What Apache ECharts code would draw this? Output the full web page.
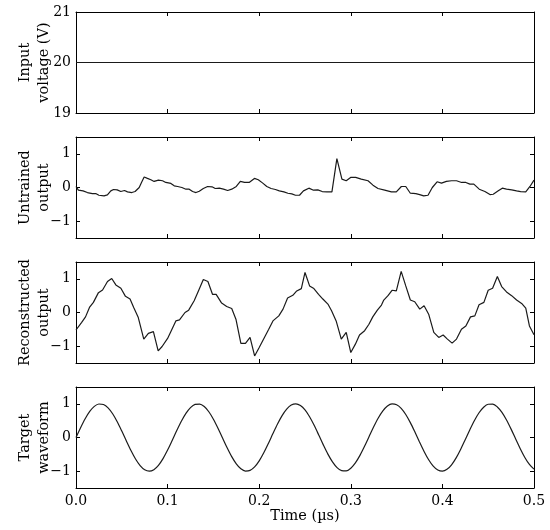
<!DOCTYPE html>
<html>
<head>
<meta charset="utf-8">
<script src="https://cdn.jsdelivr.net/npm/echarts@6/dist/echarts.min.js"></script>
<style>
html,body{margin:0;padding:0;background:#fff;}
#chart{width:550px;height:530px;}
</style>
</head>
<body>
<div id="chart"></div>
<script>
// ---- tick labels ----
const xTicks = [0, 0.1, 0.2, 0.3, 0.4, 0.5];
const inputTicks = [19, 20, 21];
const outTicks = [-1, 0, 1];

// ---- panel titles ----
const panelNames = ['Input\nvoltage (V)', 'Untrained\noutput', 'Reconstructed\noutput', 'Target\nwaveform'];
const xName = 'Time (\u00b5s)';

// ---- input voltage ----
const inputT = [0, 0.5];
const inputV = [20, 20];

// ---- untrained output ----
const untrainedT = [0,0.0026,0.0077,0.0124,0.0179,0.0215,0.025,0.0306,0.0343,0.038,0.041,0.045,0.0489,0.053,0.0562,0.061,0.0645,0.069,0.0715,0.0744,0.078,0.0817,0.0853,0.090,0.0945,0.098,0.1036,0.1072,0.111,0.1156,0.12,0.1236,0.1273,0.131,0.1346,0.139,0.1437,0.1485,0.152,0.1565,0.161,0.1656,0.170,0.175,0.1794,0.184,0.189,0.1948,0.199,0.2039,0.2083,0.213,0.2177,0.222,0.227,0.2313,0.2356,0.2396,0.244,0.2483,0.2542,0.2593,0.264,0.2688,0.2739,0.2794,0.2848,0.2903,0.295,0.2998,0.3053,0.3114,0.3188,0.3242,0.3297,0.337,0.3443,0.3497,0.3552,0.36,0.365,0.371,0.3752,0.3796,0.3843,0.389,0.3942,0.399,0.4044,0.410,0.4154,0.421,0.4256,0.430,0.4343,0.4402,0.4464,0.4519,0.4555,0.461,0.4654,0.470,0.4756,0.481,0.4854,0.491,0.4956,0.50];
const untrainedV = [0.03,-0.08,-0.10,-0.15,-0.18,-0.18,-0.23,-0.25,-0.22,-0.10,-0.06,-0.07,-0.12,-0.09,-0.13,-0.15,-0.12,0.0,0.15,0.31,0.27,0.23,0.18,0.22,0.20,0.15,0.12,0.05,0.03,0.0,-0.05,-0.05,-0.12,-0.15,-0.11,-0.03,0.03,0.02,-0.03,-0.02,-0.05,-0.09,-0.05,0.03,0.18,0.15,0.15,0.27,0.23,0.13,0.03,-0.03,-0.06,-0.10,-0.13,-0.17,-0.19,-0.23,-0.23,-0.10,-0.02,-0.08,-0.07,-0.12,-0.13,-0.13,0.86,0.25,0.20,0.30,0.30,0.25,0.20,0.07,-0.03,-0.08,-0.13,-0.13,0.03,0.03,-0.17,-0.18,-0.21,-0.25,-0.23,0.0,0.17,0.13,0.18,0.20,0.20,0.15,0.15,0.10,0.10,-0.05,-0.12,-0.21,-0.20,-0.10,-0.02,-0.05,-0.07,-0.10,-0.12,-0.13,0.03,0.22];

// ---- reconstructed output ----
const reconT = [0,0.006,0.0104,0.0147,0.019,0.0245,0.029,0.0344,0.039,0.0435,0.049,0.054,0.059,0.063,0.068,0.074,0.079,0.0845,0.0897,0.094,0.100,0.104,0.109,0.113,0.119,0.123,0.129,0.134,0.139,0.144,0.149,0.153,0.159,0.1645,0.170,0.1746,0.180,0.185,0.190,0.195,0.200,0.2057,0.2104,0.215,0.2214,0.226,0.231,0.2367,0.241,0.246,0.250,0.255,0.2597,0.2648,0.2695,0.275,0.279,0.284,0.2896,0.295,0.300,0.305,0.3095,0.3151,0.3198,0.324,0.329,0.3335,0.336,0.3406,0.345,0.3497,0.355,0.360,0.365,0.3698,0.3753,0.380,0.385,0.3906,0.396,0.4008,0.4055,0.4106,0.4154,0.4208,0.4256,0.4307,0.4354,0.440,0.4453,0.450,0.4548,0.460,0.4647,0.470,0.4756,0.481,0.4865,0.491,0.495,0.5];
const reconV = [-0.52,-0.30,-0.13,0.15,0.30,0.59,0.67,0.92,1.01,0.82,0.72,0.48,0.40,0.15,-0.15,-0.79,-0.62,-0.57,-1.14,-1.01,-0.77,-0.54,-0.25,-0.22,0.0,0.07,0.35,0.66,0.98,0.92,0.54,0.54,0.28,0.18,0.12,-0.20,-0.92,-0.92,-0.74,-1.29,-1.04,-0.74,-0.50,-0.25,-0.10,0.10,0.43,0.51,0.64,0.71,1.19,0.79,0.71,0.54,0.40,0.25,0.05,-0.25,-0.79,-0.59,-1.19,-0.94,-0.67,-0.54,-0.35,-0.13,0.07,0.22,0.37,0.50,0.66,0.64,1.22,0.79,0.37,0.32,0.10,0.20,-0.05,-0.59,-0.74,-0.67,-0.79,-0.91,-0.79,-0.50,-0.40,-0.13,-0.10,0.23,0.30,0.66,0.72,1.07,0.77,0.61,0.50,0.37,0.27,0.13,-0.40,-0.66];

// ---- target waveform ----
const targetT = [0,0.005,0.01,0.015,0.02,0.025,0.03,0.035,0.04,0.045,0.05,0.055,0.06,0.065,0.07,0.075,0.08,0.085,0.09,0.095,0.1,0.105,0.11,0.115,0.12,0.125,0.13,0.135,0.14,0.145,0.15,0.155,0.16,0.165,0.17,0.175,0.18,0.185,0.19,0.195,0.2,0.205,0.21,0.215,0.22,0.225,0.23,0.235,0.24,0.245,0.25,0.255,0.26,0.265,0.27,0.275,0.28,0.285,0.29,0.295,0.3,0.305,0.31,0.315,0.32,0.325,0.33,0.335,0.34,0.345,0.35,0.355,0.36,0.365,0.37,0.375,0.38,0.385,0.39,0.395,0.4,0.405,0.41,0.415,0.42,0.425,0.43,0.435,0.44,0.445,0.45,0.455,0.46,0.465,0.47,0.475,0.48,0.485,0.49,0.495,0.5];
const targetV = [0,0.2907,0.5563,0.7738,0.9246,0.9954,0.9802,0.8803,0.7045,0.4678,0.1906,-0.1030,-0.3877,-0.6389,-0.8350,-0.9589,-1.0000,-0.9546,-0.8268,-0.6277,-0.3743,-0.0885,0.2048,0.4806,0.7146,0.8872,0.9830,0.9939,0.9190,0.7646,0.5443,0.2768,-0.0145,-0.3046,-0.5683,-0.7829,-0.9300,-0.9967,-0.9773,-0.8734,-0.6942,-0.4550,-0.1764,0.1174,0.4010,0.6502,0.8431,0.9629,0.9998,0.9502,0.8188,0.6163,0.3608,0.0741,-0.2190,-0.4934,-0.7248,-0.8938,-0.9856,-0.9922,-0.9131,-0.7552,-0.5320,-0.2629,0.0290,0.3184,0.5803,0.7918,0.9353,0.9978,0.9741,0.8663,0.6838,0.4420,0.1621,-0.1319,-0.4143,-0.6611,-0.8507,-0.9667,-0.9993,-0.9456,-0.8105,-0.6050,-0.3472,-0.0595,0.2333,0.5059,0.7347,0.9002,0.9879,0.9903,0.9071,0.7456,0.5197,0.2487,-0.0436,-0.3322,-0.5920,-0.8007,-0.9403];

// ---- build ----
const FONT = 'DejaVu Serif';
const INK = '#000';
const pair = (t, v) => t.map((x, i) => [x, v[i]]);
const panels = [
  { data: pair(inputT, inputV), ymin: 19, ymax: 21, ticks: inputTicks, smooth: false },
  { data: pair(untrainedT, untrainedV), ymin: -1.5, ymax: 1.5, ticks: outTicks, smooth: false },
  { data: pair(reconT, reconV), ymin: -1.5, ymax: 1.5, ticks: outTicks, smooth: false },
  { data: pair(targetT, targetV), ymin: -1.5, ymax: 1.5, ticks: outTicks, smooth: 0.3 }
];
const tops = [12, 137, 262, 387];
const H = 101;
const fmtNum = v => (v < 0 ? '\u2212' + Math.abs(v) : String(v));

const grid = [], xAxis = [], yAxis = [], series = [];
panels.forEach((p, i) => {
  grid.push({ left: 76, right: 16, top: tops[i], height: H, containLabel: false, outerBoundsMode: 'none' });
  const line = { show: true, onZero: false, lineStyle: { color: INK, width: 1 } };
  const isLast = i === panels.length - 1;
  xAxis.push({
    type: 'value', gridIndex: i, position: 'bottom', min: 0, max: 0.5,
    axisLine: line,
    axisTick: { show: true, inside: true, length: 4, customValues: xTicks, lineStyle: { color: INK } },
    axisLabel: { show: isLast, customValues: xTicks, formatter: v => v.toFixed(1), fontFamily: FONT, fontSize: 14, color: INK, margin: 6 },
    splitLine: { show: false },
    name: isLast ? xName : '', nameLocation: 'middle', nameGap: 21, nameMoveOverlap: false,
    nameTextStyle: { fontFamily: FONT, fontSize: 14.5, color: INK }
  });
  xAxis.push({
    type: 'value', gridIndex: i, position: 'top', min: 0, max: 0.5,
    axisLine: line,
    axisTick: { show: true, inside: true, length: 4, customValues: xTicks, lineStyle: { color: INK } },
    axisLabel: { show: false }, splitLine: { show: false }
  });
  yAxis.push({
    type: 'value', gridIndex: i, position: 'left', min: p.ymin, max: p.ymax,
    axisLine: line,
    axisTick: { show: true, inside: true, length: 4, customValues: p.ticks, lineStyle: { color: INK } },
    axisLabel: { show: true, customValues: p.ticks, formatter: fmtNum, fontFamily: FONT, fontSize: 14, color: INK, margin: 5 },
    splitLine: { show: false },
    name: panelNames[i], nameLocation: 'middle', nameGap: 22, nameMoveOverlap: false,
    nameTextStyle: { fontFamily: FONT, fontSize: 14.5, color: INK, lineHeight: 19, align: 'center' }
  });
  yAxis.push({
    type: 'value', gridIndex: i, position: 'right', min: p.ymin, max: p.ymax,
    axisLine: line,
    axisTick: { show: true, inside: true, length: 4, customValues: p.ticks, lineStyle: { color: INK } },
    axisLabel: { show: false }, splitLine: { show: false }
  });
  series.push({
    type: 'line', xAxisIndex: 2 * i, yAxisIndex: 2 * i, data: p.data,
    showSymbol: false, smooth: p.smooth, clip: true,
    lineStyle: { color: '#1a1a1a', width: 1.2 }
  });
});

const chart = echarts.init(document.getElementById('chart'), null, { renderer: 'canvas' });
chart.setOption({ animation: false, backgroundColor: '#fff', grid, xAxis, yAxis, series });
</script>
</body>
</html>
